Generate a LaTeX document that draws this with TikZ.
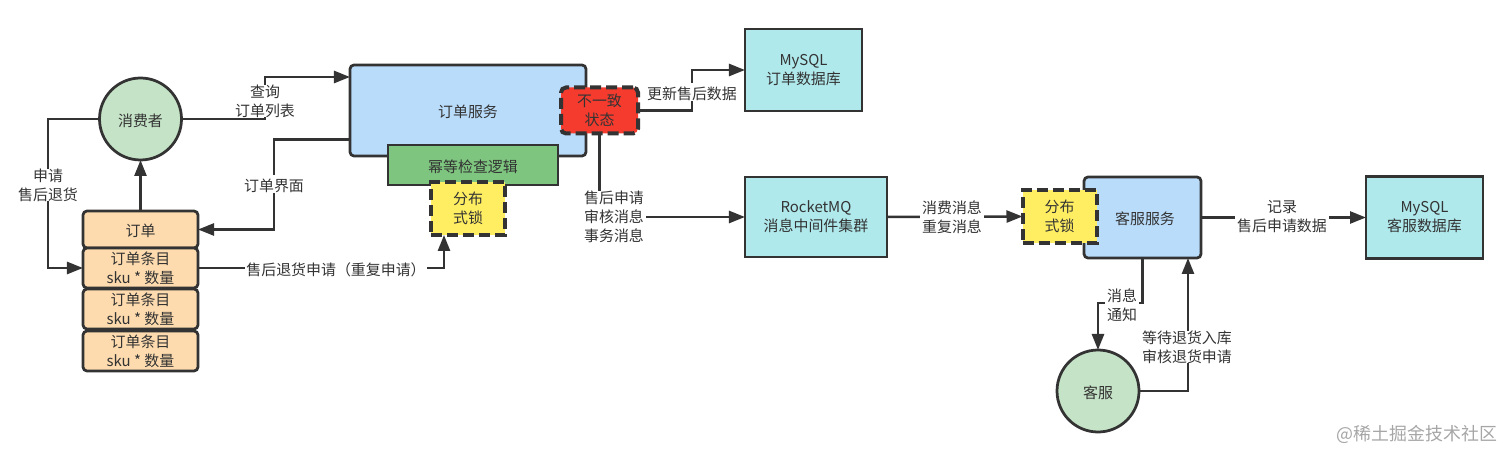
\documentclass[tikz,border=0pt]{standalone}
\usepackage{fontspec}
\setmainfont{Noto Sans CJK SC}
\usetikzlibrary{arrows.meta}
\definecolor{linegray}{HTML}{333333}
\definecolor{svcblue}{HTML}{B9DCFB}
\definecolor{usergreen}{HTML}{C5E3C6}
\definecolor{checkgreen}{HTML}{7EC57F}
\definecolor{orderorange}{HTML}{FDDBAE}
\definecolor{lockyellow}{HTML}{FFEE62}
\definecolor{statered}{HTML}{F53B2E}
\definecolor{storecyan}{HTML}{B0E9EC}
\tikzset{
  every node/.append style={inner sep=0pt,outer sep=0pt,align=center,text=linegray,font=\fontsize{8.5}{10.8}\selectfont,execute at begin node={\rule{0pt}{9pt}}},
  link/.style={draw=linegray,line width=0.05cm,-{Triangle[length=0.32cm,width=0.24cm]}},
  box/.style={draw=linegray,line width=0.055cm,rectangle},
  svc/.style={box,rounded corners=0.08cm,fill=svcblue},
  store/.style={box,fill=storecyan,minimum width=2.34cm,minimum height=1.64cm},
  user/.style={box,circle,fill=usergreen,minimum size=1.64cm},
  orderpart/.style={box,rounded corners=0.08cm,fill=orderorange,minimum width=2.3cm},
  lock/.style={draw=linegray,line width=0.08cm,dash pattern=on 0.22cm off 0.1cm,fill=lockyellow,minimum width=1.48cm,minimum height=1.06cm},
  lbl/.style={fill=white,inner xsep=1pt}
}
\begin{document}
\begin{tikzpicture}[scale=0.2]
\useasboundingbox (0,0) rectangle (151.2,-46);
\node [svc,minimum width=4.72cm,minimum height=1.82cm] (ordersvc) at (46.8,-11.05) {订单服务};
\node [box,fill=checkgreen,minimum width=3.4cm,minimum height=0.8cm] (idemp) at (47.3,-16.5) {幂等检查逻辑};
\node [lock] (locka) at (46.8,-20.85) {分布\\式锁};
\node [lock,fill=statered,rounded corners=0.1cm,minimum width=1.54cm,minimum height=0.92cm] (badstate) at (59.95,-11.05) {不一致\\状态};
\node [store] (mysqla) at (80.35,-7) {MySQL\\订单数据库};
\node [store,minimum width=2.84cm,minimum height=1.6cm] (mq) at (81.6,-21.7) {RocketMQ\\消息中间件集群};
\node [svc,minimum width=2.34cm,minimum height=1.62cm] (csvc) at (114.25,-21.75) {\hspace{0.1cm}客服服务};
\node [lock] (lockb) at (105.95,-21.65) {分布\\式锁};
\node [store] (mysqlb) at (142.45,-21.75) {MySQL\\客服数据库};
\node [user] (consumer) at (14.05,-11.9) {消费者};
\node [user] (agent) at (109.8,-39.1) {客服};
\node [orderpart,minimum height=0.74cm] (orderhead) at (14.05,-22.95) {订单};
\node [orderpart,minimum height=0.8cm] (itema) at (14.05,-26.8) {订单条目\\sku * 数量};
\node [orderpart,minimum height=0.8cm] (itemb) at (14.05,-30.9) {订单条目\\sku * 数量};
\node [orderpart,minimum height=0.8cm] (itemc) at (14.05,-35.1) {订单条目\\sku * 数量};
\coordinate (svcin) at (35,-7.7);
\coordinate (svcout) at (35,-13.95);
\coordinate (lockin) at (44.4,-23.5);
\coordinate (csvcin) at (118.8,-25.8);
\coordinate (querybend) at (26.5,-9.8);
\coordinate (applybend) at (4.8,-18.5);
\coordinate (pagebend) at (27.4,-18.5);
\coordinate (updbend) at (69.2,-9.2);
\coordinate (msgbend) at (111,-30.3);
\draw [link] (consumer.east) -| (querybend) |- (svcin);
\draw [link] (consumer.west) -| (applybend) |- (itema.west);
\draw [link] (orderhead.north) -- (consumer.south);
\draw [link] (svcout) -| (pagebend) |- (orderhead.east);
\draw [link] (itema.east) -| (lockin);
\draw [link] (badstate.east) -| (updbend) |- (mysqla.west);
\draw [link] (badstate.south) |- (mq.west);
\draw [link] (mq.east) -- (lockb.west);
\draw [link] (csvc.east) -- (mysqlb.west);
\draw [link] (csvc.south) |- (msgbend) -| (agent.north);
\draw [link] (agent.east) -| (csvcin);
\node [lbl] (querylbl) at (26.5,-10.1) {查询\\订单列表};
\node [lbl] (applylbl) at (4.8,-18.5) {申请\\售后退货};
\node [lbl] (pagelbl) at (27.4,-18.4) {订单界面};
\node [lbl] (dupelbl) at (33.6,-26.8) {售后退货申请（重复申请）};
\node [lbl] (updlbl) at (69.2,-9.2) {更新售后数据};
\node [lbl] (msglbl) at (61.4,-21.7) {售后申请\\审核消息\\事务消息};
\node [lbl] (consumelbl) at (95.2,-21.7) {消费消息\\重复消息};
\node [lbl] (recordlbl) at (128.2,-21.7) {记录\\售后申请数据};
\node [lbl] (notifylbl) at (112.2,-30.5) {消息\\通知};
\node [lbl] (auditlbl) at (118.7,-34.7) {等待退货入库\\审核退货申请};
\node [text=black!35,font=\fontsize{10.2}{12}\selectfont] (markwm) at (141.7,-43.4) {@稀土掘金技术社区};
\end{tikzpicture}
\end{document}
